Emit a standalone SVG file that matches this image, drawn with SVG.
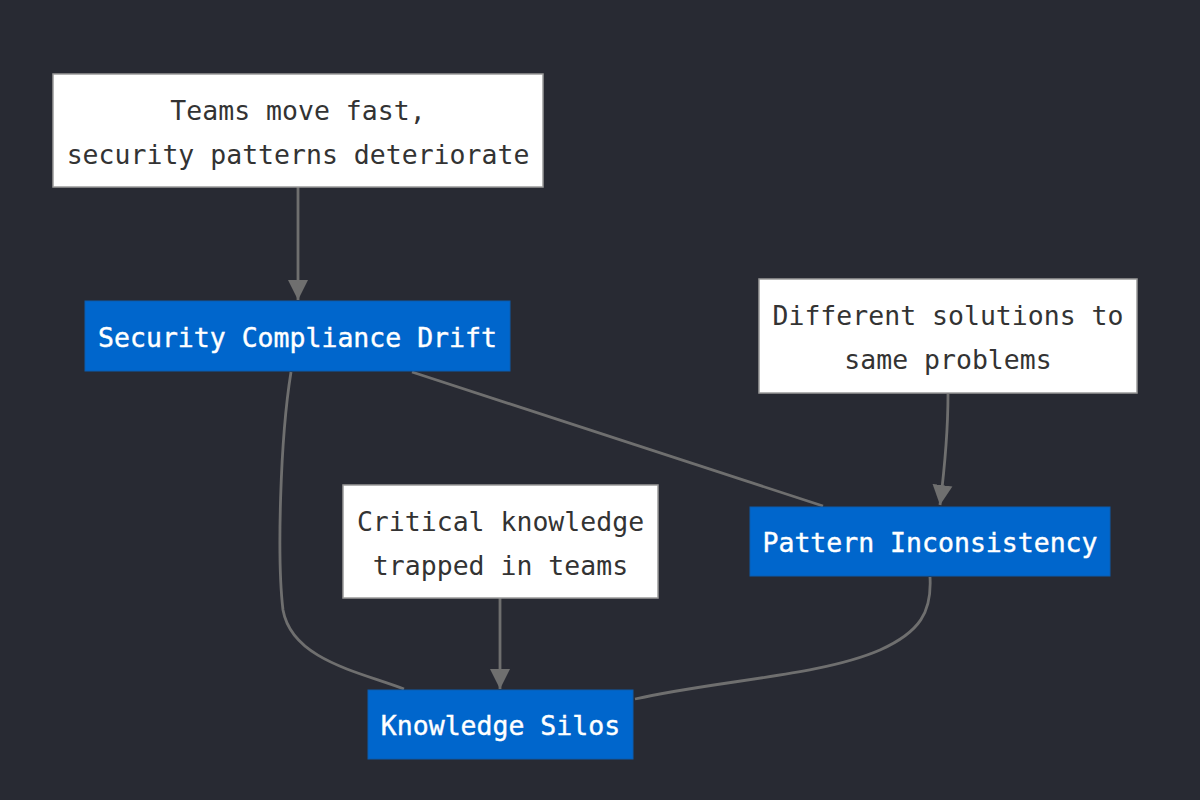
<svg xmlns="http://www.w3.org/2000/svg" width="1200" height="800" viewBox="0 0 1200 800">
<style>
.bg{fill:#282a33}
.note rect{fill:#ffffff;stroke:#9a9a9a;stroke-width:1.5}
.note text{fill:#333333}
.issue rect{fill:#0066cc;stroke:#0a5cb0;stroke-width:1}
.issue text{fill:#ffffff;stroke:#ffffff;stroke-width:0.4}
text{font-family:"DejaVu Sans Mono","Liberation Mono",monospace;font-size:26.5px;text-anchor:middle;dominant-baseline:central}
.edge{fill:none;stroke:#6f6f6f;stroke-width:2.8}
</style>
<defs>
<marker id="arr" markerUnits="userSpaceOnUse" markerWidth="22" markerHeight="22" viewBox="0 0 22 22" refX="20" refY="11" orient="auto">
<path d="M0,1 L20,11 L0,21 Z" fill="#6f6f6f"/>
</marker>
</defs>
<rect class="bg" x="0" y="0" width="1200" height="800"/>
<g id="connectors">
<path class="edge" d="M298,187 L298,300" marker-end="url(#arr)"/>
<path class="edge" d="M948,394 C948,430 945,465 940,505" marker-end="url(#arr)"/>
<path class="edge" d="M500,598 L500,689" marker-end="url(#arr)"/>
<path class="edge" d="M412,372 L823,506"/>
<path class="edge" d="M291,372 C280,440 277,560 283,610 C292,660 360,672 404,689"/>
<path class="edge" d="M930,577 C932,612 920,632 880,650 C820,676 720,680 635,699"/>
</g>
<g id="node-teams" class="note">
<rect x="53" y="74" width="490" height="113"/>
<text x="298" y="110">Teams move fast,</text>
<text x="298" y="154">security patterns deteriorate</text>
</g>
<g id="node-drift" class="issue">
<rect x="85" y="301" width="425" height="70"/>
<text x="297.5" y="337">Security Compliance Drift</text>
</g>
<g id="node-different" class="note">
<rect x="759" y="279" width="378" height="114"/>
<text x="948" y="315">Different solutions to</text>
<text x="948" y="359">same problems</text>
</g>
<g id="node-pattern" class="issue">
<rect x="750" y="507" width="360" height="69"/>
<text x="930" y="542">Pattern Inconsistency</text>
</g>
<g id="node-critical" class="note">
<rect x="343" y="485" width="315" height="113"/>
<text x="500.5" y="521">Critical knowledge</text>
<text x="500.5" y="565">trapped in teams</text>
</g>
<g id="node-silos" class="issue">
<rect x="368" y="690" width="265" height="69"/>
<text x="500.5" y="725">Knowledge Silos</text>
</g>
</svg>
